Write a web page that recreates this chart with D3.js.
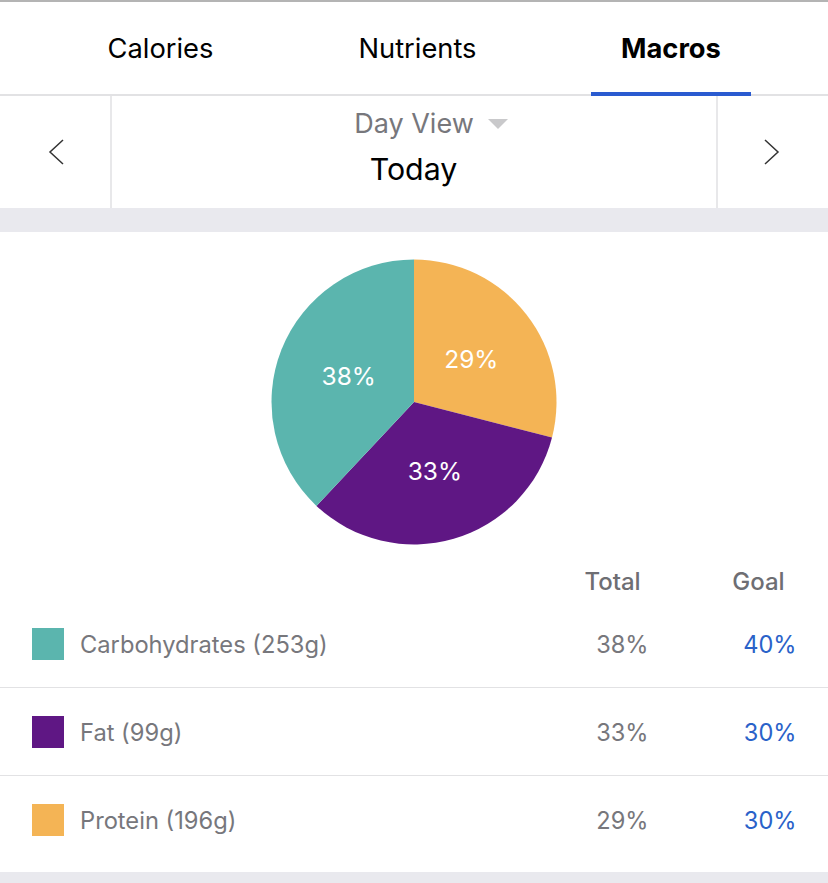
<!DOCTYPE html>
<meta charset="utf-8">
<style>

html, body {
  margin: 0;
  background: #fff;
}

svg {
  display: block;
  font-family: Inter, Roboto, sans-serif;
}

</style>
<body>
<script src="https://d3js.org/d3.v7.min.js"></script>
<script>

var tabs = ["Calories", "Nutrients", "Macros"];
var macros = ["Carbohydrates (253g)", "Fat (99g)", "Protein (196g)"];
var totals = [38, 33, 29];
var goals = [40, 30, 30];
var colors = ["#5bb5ae", "#5f1784", "#f4b455"];
var columns = ["Total", "Goal"];

var width = 828,
    height = 883;

var svg = d3.select("body").append("svg")
    .attr("width", width)
    .attr("height", height);

// background bands and rules
function band(x, y, w, h, fill) {
  svg.append("rect")
      .attr("x", x)
      .attr("y", y)
      .attr("width", w)
      .attr("height", h)
      .style("fill", fill);
}

function label(x, y, text, size, fill, anchor, weight) {
  return svg.append("text")
      .attr("x", x)
      .attr("y", y)
      .style("font-size", size + "px")
      .style("font-weight", weight || 400)
      .style("fill", fill)
      .style("text-anchor", anchor || "start")
      .text(text);
}

band(0, 0, width, 2, "#b4b4b4");
band(0, 94, width, 2, "#e2e2e4");
band(591, 92, 160, 4, "#2a5bd0");
band(110, 96, 2, 112, "#e8e8ea");
band(716, 96, 2, 112, "#e8e8ea");
band(0, 208, width, 24, "#e9e9ee");
band(0, 687, width, 1, "#e2e2e4");
band(0, 775, width, 1, "#e2e2e4");
band(0, 872, width, 11, "#e9e9ee");

// tabs
var tabX = [160.5, 417.5, 671];
tabs.forEach(function(t, i) {
  label(tabX[i], 58, t, 27.3, "#000", "middle", i == 2 ? 700 : 400);
});

// date header
label(414, 133, "Day View", 27, "#77777c", "middle");
label(413.5, 180, "Today", 30.3, "#000", "middle");
svg.append("path")
    .attr("d", d3.line()([[488, 119], [508, 119], [498, 129]]) + "Z")
    .style("fill", "#c9c9cb");

// arrows
var chevron = d3.line();
svg.append("path")
    .attr("d", chevron([[63, 140], [50, 152], [63, 164]]))
    .style("fill", "none")
    .style("stroke", "#333")
    .style("stroke-width", 1.5);
svg.append("path")
    .attr("d", chevron([[765, 140], [778, 152], [765, 164]]))
    .style("fill", "none")
    .style("stroke", "#333")
    .style("stroke-width", 1.5);

// pie, protein first going clockwise from twelve o'clock
var order = [2, 1, 0];
var radius = 142.5;

var pie = d3.pie()
    .sort(null)
    .value(function(d) { return totals[d]; });

var arc = d3.arc()
    .innerRadius(0)
    .outerRadius(radius);

var g = svg.append("g")
    .attr("transform", "translate(414,402)");

g.selectAll(".arc")
    .data(pie(order))
  .enter().append("path")
    .attr("class", "arc")
    .attr("d", arc)
    .style("fill", function(d) { return colors[d.data]; });

g.selectAll(".label")
    .data(pie(order))
  .enter().append("text")
    .attr("class", "label")
    .attr("transform", function(d) { return "translate(" + arc.centroid(d) + ")"; })
    .attr("dx", "1")
    .attr("dy", "9.5")
    .style("text-anchor", "middle")
    .style("font-size", "24.5px")
    .style("fill", "#fff")
    .text(function(d) { return totals[d.data] + "%"; });

// table
label(612.5, 590, columns[0], 24, "#6e6e73", "middle", 500);
label(758.5, 590, columns[1], 24, "#6e6e73", "middle", 500);

var rowY = d3.scalePoint()
    .domain(d3.range(macros.length))
    .range([644, 820]);

macros.forEach(function(m, i) {
  var y = rowY(i);
  band(32, y - 16, 32, 32, colors[i]);
  label(80, y + 9, m, 23.7, "#77777c");
  label(648.5, y + 9, totals[i] + "%", 23.6, "#77777c", "end");
  label(796.5, y + 9, goals[i] + "%", 23.6, "#2a62c9", "end");
});

</script>
</body>
